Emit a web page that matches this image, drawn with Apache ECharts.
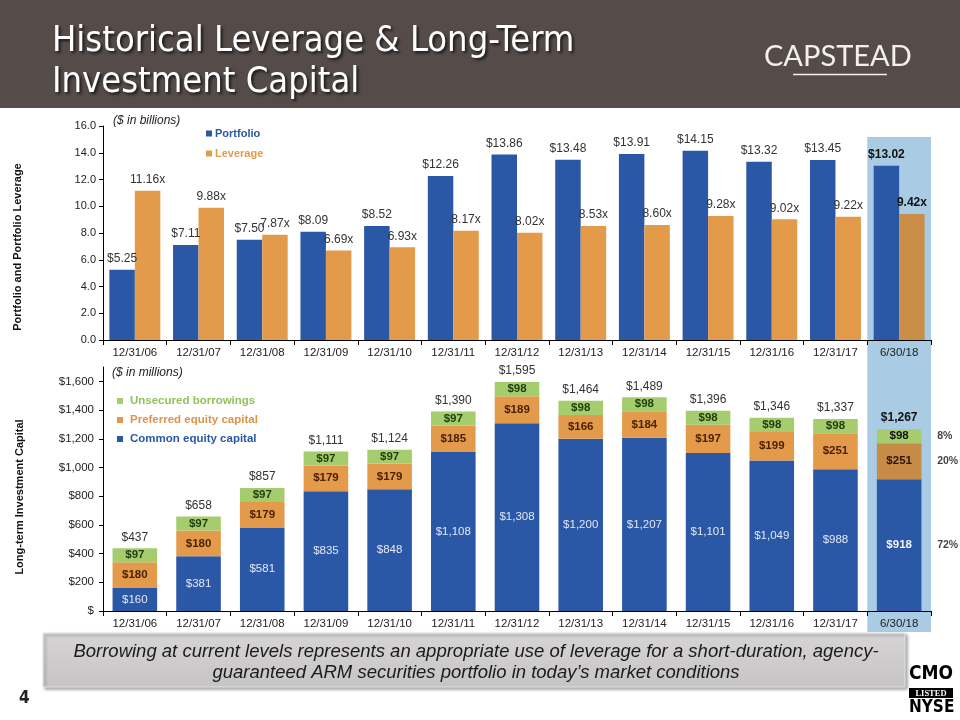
<!DOCTYPE html>
<html><head><meta charset="utf-8">
<script src="https://cdn.jsdelivr.net/npm/echarts@6/dist/echarts.min.js"></script>
<style>html,body{margin:0;padding:0;background:#fff}#c{width:960px;height:720px}</style>
</head><body><div id="c"></div>
<script>
const categories = ['12/31/06','12/31/07','12/31/08','12/31/09','12/31/10','12/31/11','12/31/12','12/31/13','12/31/14','12/31/15','12/31/16','12/31/17','6/30/18'];
const portfolio = [5.25, 7.11, 7.50, 8.09, 8.52, 12.26, 13.86, 13.48, 13.91, 14.15, 13.32, 13.45, 13.02];
const leverage = [11.16, 9.88, 7.87, 6.69, 6.93, 8.17, 8.02, 8.53, 8.60, 9.28, 9.02, 9.22, 9.42];
const commonEquity = [160, 381, 581, 835, 848, 1108, 1308, 1200, 1207, 1101, 1049, 988, 918];
const preferredEquity = [180, 180, 179, 179, 179, 185, 189, 166, 184, 197, 199, 251, 251];
const unsecured = [97, 97, 97, 97, 97, 97, 98, 98, 98, 98, 98, 98, 98];
const totals = [437, 658, 857, 1111, 1124, 1390, 1595, 1464, 1489, 1396, 1346, 1337, 1267];

const FONT = "'Liberation Sans', Arial, sans-serif";
const NARROW = "'Liberation Sans Narrow', 'DejaVu Sans Condensed', sans-serif";
const BLUE = '#2a57a6', ORANGE = '#e39b4b', GREEN = '#a5cd6d';
const last = categories.length - 1;

function money(v){ return v === 0 ? '$' : '$' + v.toLocaleString('en-US'); }

// last item: optional highlighted bar colour and bold label
function barData(arr, hlBarColor, hlLabelColor){
  return arr.map((v, i) => {
    const d = { value: v };
    if (i === last) {
      if (hlBarColor) d.itemStyle = { color: hlBarColor };
      d.label = { fontWeight: 'bold' };
      if (hlLabelColor) d.label.color = hlLabelColor;
    }
    return d;
  });
}

const lastTotal = commonEquity[last] + preferredEquity[last] + unsecured[last];
const pctPoints = [
  { value: [last, commonEquity[last] / 2], pct: commonEquity[last] / lastTotal },
  { value: [last, commonEquity[last] + preferredEquity[last] / 2], pct: preferredEquity[last] / lastTotal },
  { value: [last, commonEquity[last] + preferredEquity[last] + unsecured[last] / 2], pct: unsecured[last] / lastTotal }
];

const chart = echarts.init(document.getElementById('c'), null, { renderer: 'canvas' });

const axisX = (gi) => ({
  type: 'category', gridIndex: gi, data: categories,
  axisLine: { lineStyle: { color: '#000', width: 1 } },
  axisTick: { show: true, length: 5, lineStyle: { color: '#000' } },
  axisLabel: { color: '#222', fontSize: 11.5, fontFamily: FONT, margin: 7 },
  splitLine: { show: false }
});

const option = {
  backgroundColor: '#fff',
  animation: false,
  textStyle: { fontFamily: FONT },
  grid: [
    { left: 103, top: 126, width: 828, height: 214 },
    { left: 103, top: 367, width: 828, height: 244 }
  ],
  xAxis: [axisX(0), axisX(1)],
  yAxis: [
    { type: 'value', gridIndex: 0, min: 0, max: 16, interval: 2,
      axisLine: { show: true, lineStyle: { color: '#000' } },
      axisTick: { show: true, length: 4, lineStyle: { color: '#000' } },
      splitLine: { show: false },
      axisLabel: { color: '#222', fontSize: 11, margin: 7, formatter: v => v.toFixed(1) } },
    { type: 'value', gridIndex: 1, min: 0, max: 1700, interval: 200,
      axisLine: { show: true, lineStyle: { color: '#000' } },
      axisTick: { show: true, length: 4, lineStyle: { color: '#000' } },
      splitLine: { show: false },
      axisLabel: { color: '#222', fontSize: 11.5, margin: 9, showMaxLabel: false,
        formatter: v => v > 1600 ? '' : money(v) } }
  ],
  legend: [
    { orient: 'vertical', left: 201, top: 123, itemWidth: 6, itemHeight: 6, itemGap: 9, icon: 'rect',
      textStyle: { fontSize: 11, fontWeight: 'bold', fontFamily: FONT, padding: [0, 0, 0, -2] },
      data: [ { name: 'Portfolio', textStyle: { color: BLUE } }, { name: 'Leverage', textStyle: { color: ORANGE } } ] },
    { orient: 'vertical', left: 112, top: 390, itemWidth: 6, itemHeight: 6, itemGap: 7, icon: 'rect',
      textStyle: { fontSize: 11.5, fontWeight: 'bold', fontFamily: FONT, padding: [0, 0, 0, 2] },
      data: [ { name: 'Unsecured borrowings', textStyle: { color: '#93c25b' } },
              { name: 'Preferred equity capital', textStyle: { color: '#e0944a' } },
              { name: 'Common equity capital', textStyle: { color: BLUE } } ] }
  ],
  series: [
    { name: 'Portfolio', type: 'bar', xAxisIndex: 0, yAxisIndex: 0, barGap: '0%', barCategoryGap: '20%',
      itemStyle: { color: BLUE }, data: barData(portfolio, null, '#111'),
      label: { show: true, position: 'top', distance: 5, color: '#333', fontSize: 12, formatter: p => '$' + p.value.toFixed(2) } },
    { name: 'Leverage', type: 'bar', xAxisIndex: 0, yAxisIndex: 0, barGap: '0%', barCategoryGap: '20%',
      itemStyle: { color: ORANGE }, data: barData(leverage, '#c98f49', '#111'),
      label: { show: true, position: 'top', distance: 5, color: '#333', fontSize: 12, formatter: p => p.value.toFixed(2) + 'x' } },
    { name: 'Common equity capital', type: 'bar', stack: 'cap', xAxisIndex: 1, yAxisIndex: 1, barWidth: '70%',
      itemStyle: { color: BLUE }, data: barData(commonEquity, null, '#f2f5fb'),
      label: { show: true, position: 'inside', color: '#e2e9f6', fontSize: 11.5, formatter: p => money(p.value) } },
    { name: 'Preferred equity capital', type: 'bar', stack: 'cap', xAxisIndex: 1, yAxisIndex: 1, barWidth: '70%',
      itemStyle: { color: ORANGE }, data: barData(preferredEquity, '#c68b47', '#2e1400'),
      label: { show: true, position: 'inside', color: '#4a2200', fontSize: 11.5, fontWeight: 'bold', formatter: p => money(p.value) } },
    { name: 'Unsecured borrowings', type: 'bar', stack: 'cap', xAxisIndex: 1, yAxisIndex: 1, barWidth: '70%',
      itemStyle: { color: GREEN }, data: barData(unsecured, null, '#111'),
      label: { show: true, position: 'inside', color: '#1f3d0c', fontSize: 11.5, fontWeight: 'bold', formatter: p => money(p.value) } },
    { name: 'Total', type: 'bar', stack: 'cap', xAxisIndex: 1, yAxisIndex: 1, barWidth: '70%',
      itemStyle: { color: 'transparent' }, legendHoverLink: false,
      data: totals.map((t, i) => ({ value: 0, label: i === last ? { fontWeight: 'bold', color: '#111' } : undefined })),
      label: { show: true, position: 'top', distance: 5, color: '#333', fontSize: 12, formatter: p => money(totals[p.dataIndex]) } },
    { name: 'pct', type: 'scatter', xAxisIndex: 1, yAxisIndex: 1, symbolSize: 0, silent: true,
      data: pctPoints.map(p => ({ value: p.value })),
      label: { show: true, position: 'right', distance: 38, color: '#111', fontSize: 10.5, fontWeight: 'bold',
        formatter: p => Math.round(pctPoints[p.dataIndex].pct * 100) + '%' } }
  ],
  graphic: { elements: [
    { id: 'hl', type: 'rect', z: -100, silent: true, shape: { x: 866, y: 137, width: 65, height: 495 }, style: { fill: '#a9cbe4' } },
    { type: 'rect', z: 10, shape: { x: 0, y: 0, width: 960, height: 108 }, style: { fill: '#554c4a' } },
    { type: 'text', z: 11, left: 52, top: 21, style: { text: 'Historical Leverage & Long-Term\nInvestment Capital', fill: '#fff',
        font: "36px " + NARROW, lineHeight: 41, textShadowColor: 'rgba(0,0,0,0.7)', textShadowBlur: 3, textShadowOffsetX: 2, textShadowOffsetY: 2 } },
    { type: 'text', z: 11, left: 764, top: 42, style: { text: 'CAPSTEAD', fill: '#f2efec', font: "29px Lato, 'Open Sans', sans-serif" } },
    { type: 'line', z: 11, shape: { x1: 793, y1: 74.5, x2: 887, y2: 74.5 }, style: { stroke: '#f2efec', lineWidth: 1.5 } },
    { type: 'text', z: 11, left: 113, top: 115, style: { text: '($ in billions)', fill: '#222', font: "italic 12px " + FONT } },
    { type: 'text', z: 11, left: 112, top: 367, style: { text: '($ in millions)', fill: '#222', font: "italic 12px " + FONT } },
    { type: 'text', z: 11, x: 18, y: 247, rotation: Math.PI / 2, style: { text: 'Portfolio and Portfolio Leverage', fill: '#111',
        font: "bold 11px " + FONT, align: 'center', verticalAlign: 'middle' } },
    { type: 'text', z: 11, x: 20, y: 497, rotation: Math.PI / 2, style: { text: 'Long-term Investment Capital', fill: '#111',
        font: "bold 11px " + FONT, align: 'center', verticalAlign: 'middle' } },
    { type: 'rect', z: 11, shape: { x: 43, y: 633, width: 862, height: 54 },
      style: { fill: new echarts.graphic.LinearGradient(0, 0, 0, 1, [{ offset: 0, color: '#d6d4d4' }, { offset: 1, color: '#c6c4c4' }]),
        stroke: '#e6e6e6', lineWidth: 1, shadowBlur: 3, shadowOffsetX: 2, shadowOffsetY: 2, shadowColor: 'rgba(0,0,0,0.35)' } },
    { type: 'text', z: 12, x: 476, y: 662, style: { text: 'Borrowing at current levels represents an appropriate use of leverage for a short-duration, agency-\nguaranteed ARM securities portfolio in today\u2019s market conditions',
        fill: '#1b1b1b', font: "italic 18.5px " + FONT, align: 'center', verticalAlign: 'middle', lineHeight: 21 } },
    { type: 'text', z: 11, left: 19, top: 690, style: { text: '4', fill: '#222', font: "bold 17px " + NARROW } },
    { type: 'text', z: 11, left: 909, top: 665, style: { text: 'CMO', fill: '#000', font: "bold 19px " + NARROW } },
    { type: 'rect', z: 11, shape: { x: 909, y: 688, width: 44, height: 10 }, style: { fill: '#000' } },
    { type: 'text', z: 12, x: 931, y: 693.5, style: { text: 'LISTED', fill: '#fff', font: "bold 8.5px 'Liberation Serif', serif", align: 'center', verticalAlign: 'middle' } },
    { type: 'text', z: 11, left: 909, top: 699, style: { text: 'NYSE', fill: '#000', font: "bold 17px " + NARROW } }
  ] }
};
chart.setOption(option);

// align highlight band to the last category of both grids
const cx = chart.convertToPixel({ xAxisIndex: 0 }, categories[last]);
const band = chart.getModel().getComponent('xAxis', 0).axis.getBandWidth();
const yTop = chart.convertToPixel({ yAxisIndex: 0 }, 16) + 11;
chart.setOption({ graphic: { elements: [ { id: 'hl', shape: { x: cx - band / 2, y: yTop, width: band, height: 632 - yTop } } ] } });
</script></body></html>
